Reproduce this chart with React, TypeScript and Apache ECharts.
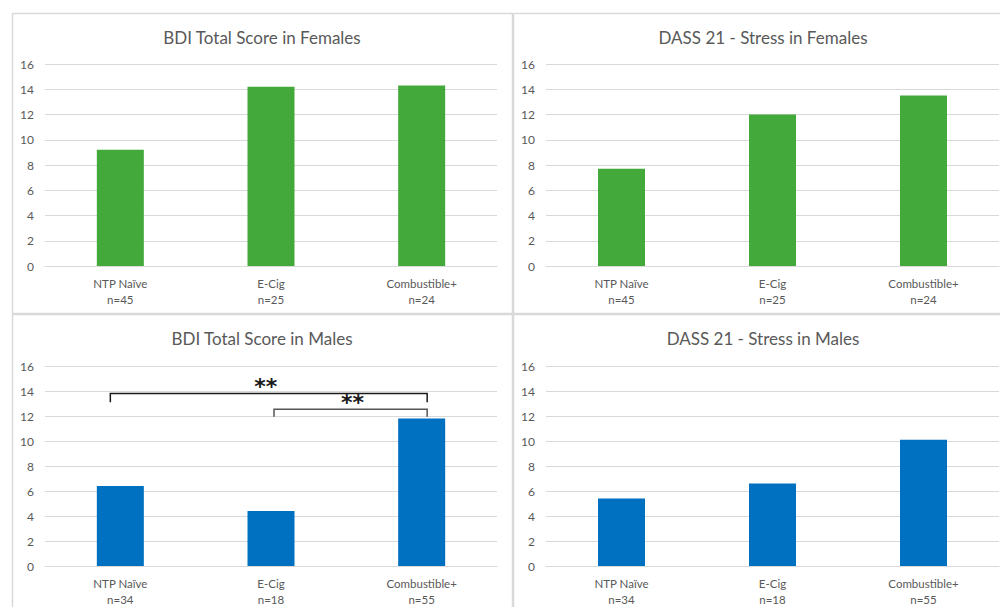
import React, { useEffect, useRef } from "react";
import * as echarts from "echarts";

const categories = ["NTP Naïve", "E-Cig", "Combustible+"];
const femaleN = [45, 25, 24];
const maleN = [34, 18, 55];
const bdiFemales = [9.2, 14.2, 14.3];
const stressFemales = [7.7, 12.0, 13.5];
const bdiMales = [6.4, 4.4, 11.8];
const stressMales = [5.4, 6.6, 10.1];
const yTicks = [0, 2, 4, 6, 8, 10, 12, 14, 16];
const titles = [
  "BDI Total Score in Females",
  "DASS 21 - Stress in Females",
  "BDI Total Score in Males",
  "DASS 21 - Stress in Males",
];
// significance brackets in the BDI males chart: [fromIndex, toIndex, bracketLevel, tickBottomLevel, label]
const bdiMaleBrackets: [number, number, number, number, string][] = [
  [0, 2, 13.8, 13.1, "**"],
  [1, 2, 12.55, 11.95, "**"],
];

const GREEN = "#43A93A";
const BLUE = "#0070C0";
const FONT = "Lato";
const TEXT = "#595959";
const GRID = "#D9D9D9";

const labelsFor = (ns: number[]) => categories.map((c, i) => `${c}\nn=${ns[i]}`);

export default function App() {
  const ref = useRef<HTMLDivElement>(null);
  useEffect(() => {
    const chart = echarts.init(ref.current!, null, { renderer: "svg" });
    const grids = [
      { left: 45, top: 64, width: 452, height: 202 },
      { left: 546, top: 64, width: 453, height: 202 },
      { left: 45, top: 366, width: 452, height: 201 },
      { left: 546, top: 366, width: 453, height: 201 },
    ];
    const nLists = [femaleN, femaleN, maleN, maleN];
    const values = [bdiFemales, stressFemales, bdiMales, stressMales];
    const colors = [GREEN, GREEN, BLUE, BLUE];
    const panels = [
      { x: 12, y: 13 },
      { x: 513, y: 13 },
      { x: 12, y: 314 },
      { x: 513, y: 314 },
    ];
    const option: any = {
      animation: false,
      backgroundColor: "#ffffff",
      grid: grids.map((g) => ({ ...g, containLabel: false })),
      xAxis: grids.map((_, i) => ({
        type: "category",
        gridIndex: i,
        data: labelsFor(nLists[i]),
        axisLine: { show: true, lineStyle: { color: GRID, width: 1 } },
        axisTick: { show: false },
        axisLabel: {
          color: TEXT,
          fontFamily: FONT,
          fontSize: 11.5,
          lineHeight: 16,
          margin: 9,
          interval: 0,
        },
      })),
      yAxis: grids.map((_, i) => ({
        type: "value",
        gridIndex: i,
        min: yTicks[0],
        max: yTicks[yTicks.length - 1],
        interval: 2,
        axisLine: { show: false },
        axisTick: { show: false },
        splitLine: { lineStyle: { color: GRID, width: 1 } },
        axisLabel: { color: TEXT, fontFamily: FONT, fontSize: 12, margin: 11 },
      })),
      graphic: [
        ...panels.map((p) => ({
          type: "rect",
          shape: { x: p.x + 0.5, y: p.y + 0.5, width: 500, height: 300 },
          style: { fill: "none", stroke: GRID, lineWidth: 1.5 },
          silent: true,
          z: -1,
        })),
        ...panels.map((p, i) => ({
          type: "text",
          x: p.x + 250,
          y: p.y + 24,
          style: {
            text: titles[i],
            fill: TEXT,
            font: `17px ${FONT}`,
            textAlign: "center",
            textVerticalAlign: "middle",
          },
        })),
      ],
      series: [
        ...values.map((v, i) => ({
          type: "bar",
          xAxisIndex: i,
          yAxisIndex: i,
          data: v,
          barWidth: 47,
          itemStyle: { color: colors[i] },
        })),
        {
          type: "custom",
          xAxisIndex: 2,
          yAxisIndex: 2,
          data: bdiMaleBrackets.map((b) => [b[0], b[1], b[2], b[3]]),
          renderItem: (params: any, api: any) => {
            const idx = params.dataIndex;
            const b = bdiMaleBrackets[idx];
            const from = api.value(0);
            const to = api.value(1);
            const level = api.value(2);
            const bottom = api.value(3);
            const pFrom = api.coord([from, level]);
            const pTo = api.coord([to, level]);
            const pBot = api.coord([from, bottom]);
            const x1 = pFrom[0] + (idx === 0 ? -10 : 3);
            const x2 = pTo[0] + 5.5;
            const y = pFrom[1];
            const yb = pBot[1];
            const stroke = idx === 0 ? "#1a1a1a" : "#555555";
            return {
              type: "group",
              children: [
                {
                  type: "polyline",
                  shape: { points: [[x1, yb], [x1, y], [x2, y], [x2, yb]] },
                  style: { stroke, lineWidth: 1.5, fill: "none" },
                },
                {
                  type: "text",
                  x: (x1 + x2) / 2 + (idx === 0 ? -3 : 2),
                  y: y + 4,
                  style: {
                    text: b[4],
                    fill: "#1a1a1a",
                    font: `bold 22px 'DejaVu Sans'`,
                    textAlign: "center",
                    textVerticalAlign: "bottom",
                  },
                },
              ],
            };
          },
          z: 5,
        },
      ],
    };
    chart.setOption(option);
    return () => chart.dispose();
  }, []);
  return (
    <div
      ref={ref}
      style={{ position: "fixed", left: 0, top: 0, width: 1000, height: 607 }}
    />
  );
}
